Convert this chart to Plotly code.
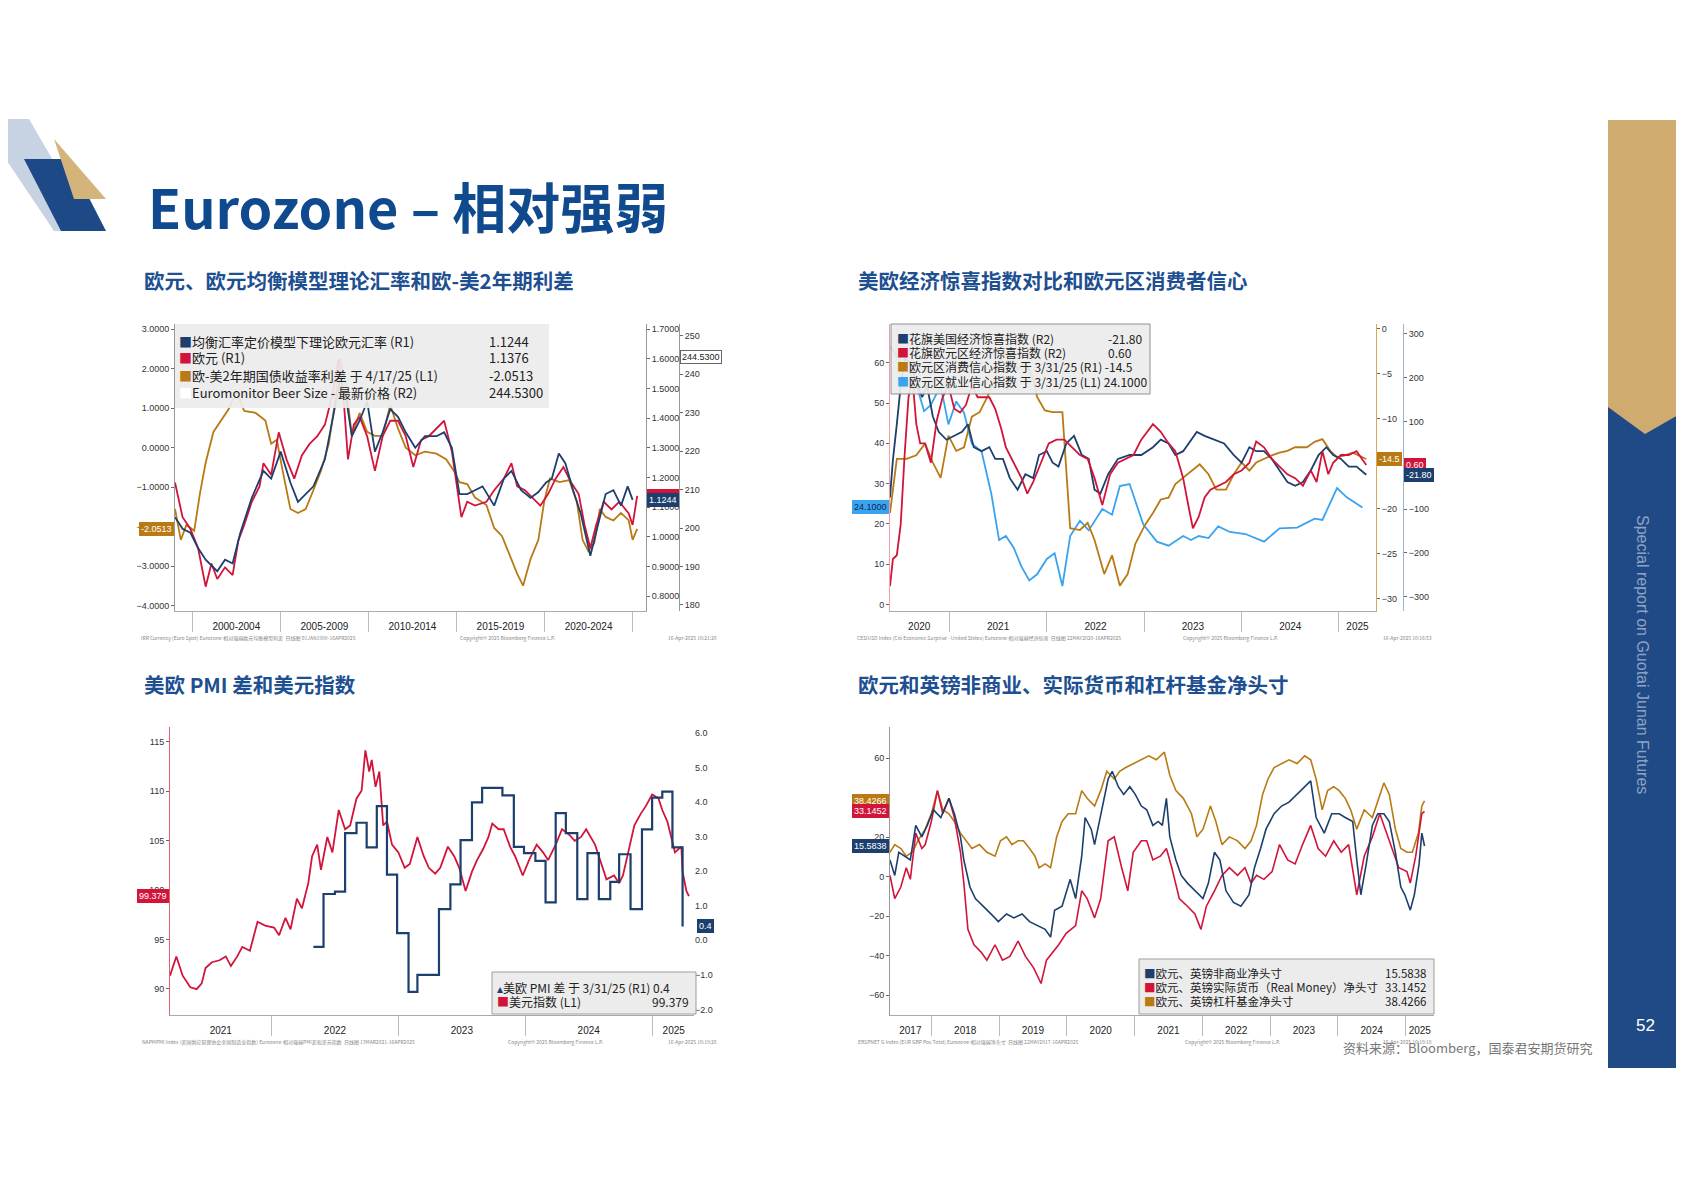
import plotly.graph_objects as go

W, H = 1684, 1191

# ---------------- chart 1: EUR, equilibrium model, 2y spread ----------------
c1_eur_x = [1999.02, 1999.45, 1999.89, 2000.33, 2000.76, 2001.09, 2001.42, 2001.86, 2002.29, 2002.62,
            2002.95, 2003.38, 2003.82, 2004.04, 2004.48, 2004.91, 2005.35, 2005.79, 2006.22, 2006.66,
            2007.1, 2007.53, 2007.97, 2008.3, 2008.62, 2008.84, 2009.17, 2009.5, 2009.93, 2010.37,
            2010.81, 2011.24, 2011.68, 2012.12, 2012.55, 2012.99, 2013.43, 2013.86, 2014.3, 2014.74,
            2015.07, 2015.28, 2015.61, 2016.05, 2016.7, 2017.14, 2017.69, 2018.12, 2018.45, 2018.89,
            2019.32, 2019.76, 2020.2, 2020.63, 2021.07, 2021.51, 2021.94, 2022.27, 2022.6, 2022.93,
            2023.36, 2023.8, 2024.24, 2024.78, 2025.0, 2025.26]
c1_eur = [1.183, 1.066, 1.027, 0.962, 0.832, 0.91, 0.858, 0.897, 0.871, 0.988,
          1.04, 1.118, 1.17, 1.248, 1.209, 1.352, 1.261, 1.196, 1.274, 1.313,
          1.339, 1.378, 1.482, 1.599, 1.443, 1.261, 1.378, 1.404, 1.339, 1.222,
          1.339, 1.391, 1.391, 1.339, 1.235, 1.326, 1.339, 1.365, 1.391, 1.287,
          1.144, 1.066, 1.118, 1.105, 1.118, 1.157, 1.196, 1.248, 1.17, 1.157,
          1.131, 1.105, 1.144, 1.196, 1.235, 1.183, 1.144, 1.04, 0.962, 1.04,
          1.118, 1.092, 1.118, 1.079, 1.04, 1.1376]
c1_model_x = [1999.02, 1999.45, 1999.89, 2000.33, 2000.76, 2001.42, 2001.86, 2002.29, 2002.73, 2003.38,
              2004.04, 2004.48, 2005.02, 2005.57, 2006.0, 2006.44, 2006.88, 2007.53, 2007.97, 2008.41,
              2008.73, 2009.06, 2009.5, 2009.93, 2010.37, 2010.81, 2011.24, 2011.68, 2012.12, 2012.66,
              2013.21, 2013.86, 2014.3, 2014.74, 2015.17, 2015.61, 2016.05, 2016.48, 2017.14, 2017.69,
              2018.12, 2018.67, 2019.21, 2019.65, 2020.09, 2020.41, 2020.81, 2021.18, 2021.62, 2022.05,
              2022.6, 2022.93, 2023.47, 2023.91, 2024.34, 2024.72, 2025.0]
c1_model = [1.066, 1.027, 1.014, 0.962, 0.923, 0.884, 0.923, 0.910, 1.014, 1.131,
            1.222, 1.196, 1.287, 1.183, 1.118, 1.144, 1.170, 1.261, 1.404, 1.534,
            1.469, 1.339, 1.391, 1.456, 1.287, 1.352, 1.430, 1.404, 1.352, 1.300,
            1.339, 1.339, 1.352, 1.300, 1.144, 1.144, 1.157, 1.170, 1.105, 1.196,
            1.222, 1.157, 1.131, 1.151, 1.183, 1.196, 1.281, 1.248, 1.157, 1.079,
            0.936, 1.014, 1.144, 1.157, 1.105, 1.170, 1.1244]
c1_spread_x = [1999.02, 1999.35, 1999.67, 2000.11, 2000.44, 2000.76, 2001.2, 2001.64, 2002.07, 2002.51,
               2002.95, 2003.6, 2004.15, 2004.48, 2004.8, 2005.13, 2005.57, 2006.0, 2006.44, 2006.88,
               2007.31, 2007.75, 2008.08, 2008.41, 2008.73, 2009.06, 2009.5, 2009.93, 2010.37, 2010.81,
               2011.24, 2011.68, 2012.12, 2012.66, 2013.21, 2013.86, 2014.41, 2014.85, 2015.17, 2015.61,
               2016.05, 2016.7, 2017.14, 2017.58, 2018.01, 2018.45, 2018.78, 2019.21, 2019.65, 2019.98,
               2020.31, 2020.85, 2021.4, 2021.83, 2022.16, 2022.49, 2022.82, 2023.14, 2023.47, 2023.91,
               2024.34, 2024.78, 2025.0, 2025.26]
c1_spread = [-1.55, -2.33, -1.95, -2.1, -1.15, -0.38, 0.4, 0.7, 0.98, 1.42,
             0.93, 0.88, 0.69, 0.1, 0.2, -0.58, -1.55, -1.65, -1.55, -1.07,
             -0.58, 0.1, 1.08, 2.24, 1.56, 0.3, 0.88, 0.4, 0.3, 0.3,
             1.08, 0.49, 0.0, -0.19, -0.1, -0.15, -0.29, -0.58, -0.87, -0.92,
             -1.26, -1.45, -2.03, -2.23, -2.71, -3.19, -3.49, -2.81, -2.33, -1.36,
             -0.78, -0.87, -0.82, -1.36, -2.33, -2.62, -2.42, -1.55, -1.75, -1.84,
             -1.65, -1.84, -2.33, -2.0513]
c1_beer = 244.53

# ---------------- chart 2: surprise indices & confidence ----------------
c2_us_x = [2020.39, 2020.42, 2020.46, 2020.5, 2020.54, 2020.6, 2020.66, 2020.72, 2020.77, 2020.83,
           2020.89, 2020.97, 2021.05, 2021.13, 2021.19, 2021.25, 2021.33, 2021.41, 2021.47, 2021.55,
           2021.62, 2021.7, 2021.78, 2021.86, 2021.92, 2022.0, 2022.06, 2022.12, 2022.2, 2022.28,
           2022.36, 2022.43, 2022.49, 2022.55, 2022.63, 2022.73, 2022.85, 2022.97, 2023.09, 2023.17,
           2023.25, 2023.32, 2023.4, 2023.48, 2023.54, 2023.62, 2023.72, 2023.82, 2023.92, 2024.0,
           2024.08, 2024.15, 2024.23, 2024.31, 2024.39, 2024.47, 2024.55, 2024.63, 2024.71, 2024.79,
           2024.87, 2024.94, 2025.02, 2025.1, 2025.18, 2025.28]
c2_us = [-73.5, 12, 93.5, 181.4, 242.9, 234, 190, 155, 181.4, 111,
         76, 58, 67, 76, 93.5, 41, 32, 41, 14.4, 14.4,
         -29.5, -56, -20.7, -29.5, 23.2, 32, 5.6, -3.2, 49.6, 67,
         23.2, 14.4, -56, -64.7, -20.7, 14.4, 23.2, 23.2, 41, 58.3,
         49.6, 23.2, 32, 58.3, 76, 67, 58.3, 49.6, 23.2, 5.6,
         41, 32, 32, 14.4, -12, -38.3, -47, -38.3, -12, 23.2,
         41, 23.2, 14.4, -3.2, -3.2, -21.8]
c2_eu_x = [2020.39, 2020.42, 2020.46, 2020.5, 2020.54, 2020.58, 2020.62, 2020.66, 2020.70, 2020.75,
           2020.81, 2020.87, 2020.93, 2020.99, 2021.05, 2021.11, 2021.17, 2021.23, 2021.29, 2021.35,
           2021.41, 2021.47, 2021.53, 2021.58, 2021.66, 2021.74, 2021.80, 2021.86, 2021.94, 2022.02,
           2022.10, 2022.18, 2022.26, 2022.34, 2022.42, 2022.49, 2022.57, 2022.65, 2022.73, 2022.81,
           2022.89, 2022.97, 2023.09, 2023.17, 2023.25, 2023.32, 2023.40, 2023.46, 2023.50, 2023.56,
           2023.62, 2023.68, 2023.76, 2023.84, 2023.92, 2024.0, 2024.08, 2024.15, 2024.23, 2024.31,
           2024.39, 2024.47, 2024.55, 2024.63, 2024.71, 2024.77, 2024.83, 2024.89, 2024.94, 2025.02,
           2025.10, 2025.18, 2025.28]
c2_eu = [-275.6, -214, -205.3, -135, 23.2, 155, 199, 93.5, 49.6, 49.6,
         5.6, 102, 155, 181.4, 128.6, 120, 137.4, 181.4, 155, 155,
         155, 128.6, 84.7, 40.8, 5.6, -29.5, -64.7, -38.3, 5.6, 49.6,
         58.3, 58.3, 40.8, 23.2, 14.4, -29.5, -91, -20.7, 5.6, 14.4,
         23.2, 58.3, 93.5, 76, 49.6, 32, -29.5, -99.8, -143.8, -117.4,
         -73.5, -55.9, -47.1, -38.3, -20.7, -12, 5.6, 53.9, 40.8, 14.4,
         -3.2, -20.7, -29.5, -47.1, -12, -38.3, 32, -20.7, 5.6, 23.2,
         23.2, 32, 0.6]
c2_cons_x = [2020.39, 2020.46, 2020.56, 2020.66, 2020.75, 2020.83, 2020.91, 2020.99, 2021.07, 2021.15,
             2021.23, 2021.31, 2021.39, 2021.47, 2021.55, 2021.62, 2021.70, 2021.78, 2021.86, 2021.90,
             2021.98, 2022.06, 2022.16, 2022.24, 2022.34, 2022.42, 2022.49, 2022.59, 2022.67, 2022.75,
             2022.83, 2022.91, 2023.01, 2023.09, 2023.17, 2023.25, 2023.32, 2023.40, 2023.48, 2023.57,
             2023.66, 2023.74, 2023.84, 2023.92, 2024.0, 2024.08, 2024.15, 2024.23, 2024.31, 2024.39,
             2024.47, 2024.55, 2024.67, 2024.75, 2024.83, 2024.91, 2024.98, 2025.06, 2025.14, 2025.28]
c2_cons = [-20.5, -14.5, -14.5, -14.1, -12.8, -14.9, -16.6, -11.9, -13.6, -13.2,
           -9.8, -9.3, -7.6, -5.5, -2.5, -2.9, -4.6, -3.8, -5.5, -7.6,
           -9.1, -9.3, -9.3, -22.2, -22.4, -21.6, -23.5, -27.3, -25.2, -28.6,
           -27.3, -23.9, -21.8, -20.5, -19.0, -18.8, -17.3, -16.6, -15.8, -15.1,
           -16.2, -17.9, -17.9, -16.2, -14.9, -15.8, -14.9, -14.5, -14.1, -13.8,
           -13.6, -13.2, -13.2, -12.6, -12.3, -13.6, -14.3, -14.1, -13.8, -14.5]
c2_emp_x = [2020.40, 2020.48, 2020.56, 2020.64, 2020.74, 2020.81, 2020.91, 2020.99, 2021.07, 2021.15,
            2021.23, 2021.33, 2021.43, 2021.51, 2021.58, 2021.66, 2021.74, 2021.82, 2021.90, 2022.0,
            2022.08, 2022.16, 2022.24, 2022.34, 2022.43, 2022.57, 2022.67, 2022.75, 2022.85, 2022.99,
            2023.13, 2023.25, 2023.40, 2023.48, 2023.56, 2023.66, 2023.76, 2023.88, 2024.04, 2024.23,
            2024.39, 2024.57, 2024.75, 2024.83, 2024.98, 2025.08, 2025.24]
c2_emp = [63.8, 60.9, 58.1, 56.2, 48.0, 49.5, 54.3, 44.7, 50.4, 47.6,
          39.9, 38.0, 27.5, 16.0, 17.0, 14.1, 9.4, 6.0, 7.5, 11.3,
          12.7, 4.6, 17.0, 20.8, 18.4, 23.7, 22.3, 29.4, 29.9, 19.9,
          15.6, 14.6, 17.0, 16.0, 17.0, 16.5, 19.4, 18.0, 17.5, 15.6,
          18.9, 19.1, 21.3, 21.0, 28.9, 26.6, 24.1]

# ---------------- chart 3: US-EU PMI gap & DXY ----------------
c3_dxy_x = [2021.20, 2021.25, 2021.30, 2021.36, 2021.41, 2021.45, 2021.48, 2021.53, 2021.59, 2021.64,
            2021.68, 2021.73, 2021.77, 2021.83, 2021.89, 2021.95, 2022.02, 2022.06, 2022.11, 2022.15,
            2022.20, 2022.24, 2022.29, 2022.32, 2022.36, 2022.39, 2022.44, 2022.48, 2022.53, 2022.58,
            2022.62, 2022.67, 2022.71, 2022.74, 2022.77, 2022.79, 2022.82, 2022.85, 2022.88, 2022.91,
            2022.95, 2023.0, 2023.05, 2023.09, 2023.15, 2023.20, 2023.24, 2023.29, 2023.33, 2023.39,
            2023.44, 2023.48, 2023.53, 2023.58, 2023.62, 2023.67, 2023.71, 2023.74, 2023.79, 2023.83,
            2023.88, 2023.92, 2023.98, 2024.03, 2024.09, 2024.14, 2024.18, 2024.24, 2024.29, 2024.35,
            2024.39, 2024.44, 2024.48, 2024.55, 2024.59, 2024.64, 2024.70, 2024.74, 2024.77, 2024.82,
            2024.86, 2024.91, 2024.95, 2025.0, 2025.05, 2025.08, 2025.12, 2025.18, 2025.23, 2025.24,
            2025.27, 2025.29]
c3_dxy = [91.33, 93.28, 91.33, 90.16, 89.96, 90.55, 92.11, 92.69, 92.89, 93.28,
          92.30, 93.28, 94.25, 93.86, 96.79, 96.40, 96.20, 95.42, 97.18, 96.01,
          99.13, 98.15, 100.69, 103.42, 104.59, 102.05, 105.37, 103.81, 108.10, 106.15,
          106.54, 109.27, 110.05, 114.14, 111.99, 113.17, 110.44, 111.99, 106.54, 106.93,
          104.59, 103.81, 102.25, 102.64, 105.37, 103.42, 102.25, 101.66, 102.25, 104.39,
          103.42, 102.25, 99.91, 101.86, 103.03, 104.20, 105.37, 106.73, 106.15, 106.15,
          104.39, 103.42, 101.47, 103.03, 104.59, 103.81, 103.03, 104.59, 106.15, 105.56,
          104.98, 105.37, 106.15, 104.59, 103.03, 101.08, 101.47, 100.69, 101.47, 104.20,
          106.54, 107.71, 108.49, 109.66, 109.27, 108.10, 106.93, 103.81, 104.39, 101.86,
          99.91, 99.379]
c3_pmi_x = [2022.33, 2022.41, 2022.50, 2022.58, 2022.67, 2022.75, 2022.83, 2022.91, 2022.99, 2023.08,
            2023.15, 2023.32, 2023.41, 2023.49, 2023.58, 2023.66, 2023.82, 2023.91, 2023.99, 2024.08,
            2024.16, 2024.24, 2024.32, 2024.41, 2024.49, 2024.58, 2024.67, 2024.74, 2024.83, 2024.92,
            2025.0, 2025.08, 2025.16, 2025.24]
c3_pmi = [-0.19, 1.34, 1.41, 3.10, 3.40, 2.69, 3.88, 1.90, 0.21, -1.49,
          -1.00, 0.90, 1.62, 2.90, 3.99, 4.41, 4.19, 2.70, 2.52, 2.30,
          1.10, 3.68, 3.10, 1.19, 2.52, 1.19, 1.69, 2.49, 0.90, 3.21,
          4.13, 4.30, 2.69, 0.4]

# ---------------- chart 4: EUR & GBP positioning ----------------
c4_nc_x = [2017.39, 2017.46, 2017.52, 2017.60, 2017.69, 2017.77, 2017.86, 2017.94, 2018.03, 2018.14,
           2018.26, 2018.34, 2018.43, 2018.48, 2018.57, 2018.65, 2018.77, 2018.88, 2018.99, 2019.11,
           2019.22, 2019.34, 2019.45, 2019.56, 2019.68, 2019.76, 2019.82, 2019.93, 2020.05, 2020.13,
           2020.22, 2020.27, 2020.36, 2020.41, 2020.53, 2020.61, 2020.67, 2020.76, 2020.84, 2020.93,
           2021.01, 2021.10, 2021.18, 2021.27, 2021.35, 2021.41, 2021.47, 2021.52, 2021.61, 2021.69,
           2021.78, 2021.89, 2022.01, 2022.09, 2022.18, 2022.26, 2022.35, 2022.46, 2022.57, 2022.69,
           2022.77, 2022.86, 2022.94, 2023.06, 2023.17, 2023.28, 2023.40, 2023.51, 2023.60, 2023.68,
           2023.80, 2023.91, 2024.02, 2024.11, 2024.22, 2024.28, 2024.34, 2024.42, 2024.51, 2024.59,
           2024.68, 2024.76, 2024.85, 2024.93, 2024.99, 2025.07, 2025.13, 2025.20, 2025.24, 2025.28]
c4_nc = [8.5, 0.7, 12.4, 10.4, 8.5, 26.0, 20.2, 26.0, 33.9, 30.0,
         39.7, 31.9, 20.2, 8.5, -5.2, -11.0, -14.9, -18.8, -22.7, -18.8,
         -20.8, -18.8, -22.7, -24.7, -26.6, -30.5, -16.9, -14.9, -1.3, -11.0,
         10.4, 30.0, 24.1, 16.3, 35.8, 49.5, 53.4, 45.6, 41.7, 45.6,
         41.7, 35.8, 33.9, 26.0, 28.0, 26.0, 39.7, 20.2, 8.5, 0.7,
         -3.2, -7.1, -11.0, -3.2, 12.4, 8.5, -7.1, -13.0, -14.9, -9.1,
         4.6, 14.3, 24.1, 31.9, 35.8, 37.8, 41.7, 45.6, 48.5, 30.0,
         22.1, 31.9, 31.9, 30.0, 28.0, 8.5, -9.1, 6.5, 26.0, 31.9,
         31.9, 28.0, 12.4, -5.2, -9.1, -16.9, -9.1, 6.5, 22.1, 15.5838]
c4_rm_x = [2017.39, 2017.46, 2017.55, 2017.63, 2017.69, 2017.77, 2017.86, 2017.91, 2018.0, 2018.09,
           2018.17, 2018.26, 2018.34, 2018.43, 2018.48, 2018.54, 2018.63, 2018.74, 2018.82, 2018.94,
           2019.05, 2019.16, 2019.28, 2019.39, 2019.51, 2019.62, 2019.70, 2019.79, 2019.88, 2019.99,
           2020.13, 2020.22, 2020.30, 2020.41, 2020.50, 2020.61, 2020.70, 2020.81, 2020.90, 2020.98,
           2021.10, 2021.18, 2021.27, 2021.38, 2021.47, 2021.55, 2021.66, 2021.78, 2021.89, 2021.98,
           2022.06, 2022.18, 2022.29, 2022.40, 2022.52, 2022.63, 2022.72, 2022.80, 2022.91, 2023.03,
           2023.14, 2023.26, 2023.37, 2023.48, 2023.60, 2023.71, 2023.82, 2023.94, 2024.05, 2024.16,
           2024.28, 2024.39, 2024.51, 2024.62, 2024.70, 2024.79, 2024.90, 2025.02, 2025.07, 2025.15,
           2025.24, 2025.28]
c4_rm = [0.7, -11.0, -5.2, 4.6, -1.3, 22.1, 14.3, 16.3, 28.0, 43.6,
         31.9, 39.7, 30.0, 12.4, -3.2, -26.6, -34.4, -38.3, -42.2, -34.4,
         -42.2, -40.3, -32.5, -40.3, -46.1, -54.0, -42.2, -38.3, -34.4, -28.6,
         -24.7, -7.1, -11.0, -20.8, -11.0, 18.2, 20.2, 4.6, -7.1, 12.4,
         18.2, 18.2, 8.5, 10.4, 14.3, 4.6, -11.0, -14.9, -18.8, -26.6,
         -14.9, -7.1, 0.7, 4.6, 0.7, 4.6, -3.2, 0.7, -1.3, 2.6,
         16.3, 8.5, 6.5, 16.3, 26.0, 14.3, 10.4, 18.2, 12.4, 16.3,
         -9.1, 10.4, 20.2, 31.9, 24.1, 16.3, 4.6, 2.6, -3.2, 10.4,
         31.9, 33.1452]
c4_lev_x = [2017.39, 2017.46, 2017.55, 2017.63, 2017.72, 2017.80, 2017.91, 2018.0, 2018.09, 2018.17,
            2018.26, 2018.34, 2018.43, 2018.51, 2018.60, 2018.71, 2018.82, 2018.94, 2019.02, 2019.11,
            2019.19, 2019.28, 2019.36, 2019.45, 2019.53, 2019.59, 2019.68, 2019.76, 2019.85, 2019.93,
            2020.02, 2020.13, 2020.22, 2020.30, 2020.41, 2020.50, 2020.59, 2020.70, 2020.78, 2020.87,
            2020.98, 2021.10, 2021.21, 2021.32, 2021.44, 2021.52, 2021.61, 2021.72, 2021.84, 2021.92,
            2022.01, 2022.12, 2022.20, 2022.29, 2022.40, 2022.52, 2022.63, 2022.72, 2022.80, 2022.89,
            2022.97, 2023.06, 2023.17, 2023.28, 2023.40, 2023.51, 2023.60, 2023.68, 2023.77, 2023.85,
            2023.94, 2024.02, 2024.11, 2024.19, 2024.28, 2024.39, 2024.51, 2024.59, 2024.68, 2024.76,
            2024.85, 2024.93, 2025.02, 2025.10, 2025.19, 2025.24, 2025.28]
c4_lev = [12.4, 16.3, 14.3, 10.4, 12.4, 18.2, 24.1, 31.9, 43.6, 33.9,
          31.9, 28.0, 22.1, 18.2, 14.3, 16.3, 12.4, 10.4, 18.2, 20.2,
          16.3, 18.2, 18.2, 14.3, 10.4, 4.6, 6.5, 4.6, 20.2, 28.0,
          31.9, 31.9, 43.6, 39.7, 35.8, 43.6, 53.4, 49.5, 53.4, 55.3,
          57.3, 59.2, 61.2, 59.2, 63.1, 51.4, 43.6, 39.7, 31.9, 20.2,
          24.1, 35.8, 28.0, 16.3, 20.2, 18.2, 14.3, 18.2, 26.0, 41.7,
          49.5, 55.3, 57.3, 59.2, 57.3, 61.2, 59.2, 49.5, 33.9, 43.6,
          45.6, 43.6, 39.7, 33.9, 24.1, 33.9, 30.0, 37.8, 47.5, 41.7,
          24.1, 14.3, 12.4, 12.4, 22.1, 35.8, 38.4266]

NAVY = "#1d3f6e"
RED = "#d2143a"
GOLD = "#b97a14"
LBLUE = "#3aa3f0"

DX, DY = 9, 9  # layout offset


def fx(x):
    return (x - DX) / W


def fy(y):
    return 1 - (y - DY) / H


fig = go.Figure()

# chart 1
fig.add_trace(go.Scatter(x=c1_spread_x, y=c1_spread, mode="lines", line=dict(color=GOLD, width=1.8), xaxis="x", yaxis="y"))
fig.add_trace(go.Scatter(x=c1_eur_x, y=c1_eur, mode="lines", line=dict(color=RED, width=1.8), xaxis="x", yaxis="y2"))
fig.add_trace(go.Scatter(x=c1_model_x, y=c1_model, mode="lines", line=dict(color=NAVY, width=1.8), xaxis="x", yaxis="y2"))
fig.add_trace(go.Scatter(x=[2025.26], y=[c1_beer], mode="markers", marker=dict(opacity=0), xaxis="x", yaxis="y3"))
# chart 2
fig.add_trace(go.Scatter(x=c2_emp_x, y=c2_emp, mode="lines", line=dict(color=LBLUE, width=1.8), xaxis="x2", yaxis="y4"))
fig.add_trace(go.Scatter(x=c2_cons_x, y=c2_cons, mode="lines", line=dict(color=GOLD, width=1.8), xaxis="x2", yaxis="y5"))
fig.add_trace(go.Scatter(x=c2_us_x, y=c2_us, mode="lines", line=dict(color=NAVY, width=1.8), xaxis="x2", yaxis="y6"))
fig.add_trace(go.Scatter(x=c2_eu_x, y=c2_eu, mode="lines", line=dict(color=RED, width=1.8), xaxis="x2", yaxis="y6"))
# chart 3
fig.add_trace(go.Scatter(x=c3_dxy_x, y=c3_dxy, mode="lines", line=dict(color=RED, width=1.8), xaxis="x3", yaxis="y7"))
fig.add_trace(go.Scatter(x=c3_pmi_x, y=c3_pmi, mode="lines", line=dict(color=NAVY, width=2.2, shape="hv"), xaxis="x3", yaxis="y8"))
# chart 4
fig.add_trace(go.Scatter(x=c4_lev_x, y=c4_lev, mode="lines", line=dict(color=GOLD, width=1.6), xaxis="x4", yaxis="y9"))
fig.add_trace(go.Scatter(x=c4_rm_x, y=c4_rm, mode="lines", line=dict(color=RED, width=1.6), xaxis="x4", yaxis="y9"))
fig.add_trace(go.Scatter(x=c4_nc_x, y=c4_nc, mode="lines", line=dict(color=NAVY, width=1.6), xaxis="x4", yaxis="y9"))

tfont = dict(family="Liberation Sans", size=9, color="#333333")
TOP = [fy(612), fy(325)]
BOT = [fy(1016), fy(728)]


def yax(rng, vals, fmt, **kw):
    d = dict(range=rng, tickvals=vals, tickformat=fmt, showgrid=False, zeroline=False,
             showline=True, linecolor="#999999", ticks="outside", ticklen=3, tickcolor="#666666",
             tickfont=tfont)
    d.update(kw)
    return d


def xax(dom, rng, labpos, labs, seps, anchor):
    return dict(domain=dom, range=rng, anchor=anchor, tickvals=labpos, ticktext=labs, ticks="",
                ticklabelstandoff=6, showgrid=False, zeroline=False, showline=True,
                linecolor="#aaaaaa", tickfont=dict(family="Liberation Sans", size=10, color="#222222"),
                minor=dict(tickvals=seps, ticks="outside", ticklen=20, tickcolor="#bbbbbb", showgrid=False))


fig.update_layout(
    width=W, height=H, margin=dict(l=0, r=0, t=0, b=0), paper_bgcolor="white",
    plot_bgcolor="white", showlegend=False,
    xaxis=xax([fx(176), fx(647)], [1999.02, 2025.76], [2002.5, 2007.5, 2012.5, 2017.5, 2022.5],
              ["2000-2004", "2005-2009", "2010-2014", "2015-2019", "2020-2024"],
              [2000, 2005, 2010, 2015, 2020, 2025], "y"),
    yaxis=yax([-4.13, 3.13], [-4, -3, -2, -1, 0, 1, 2, 3], ".4f", domain=TOP, anchor="x"),
    yaxis2=yax([0.75, 1.717], [0.8, 0.9, 1.0, 1.1, 1.2, 1.3, 1.4, 1.5, 1.6, 1.7], ".4f",
               overlaying="y", side="right", anchor="x"),
    yaxis3=yax([178.4, 253.1], [180, 190, 200, 210, 220, 230, 240, 250], "d",
               overlaying="y", side="right", anchor="free", position=fx(680)),
    xaxis2=xax([fx(891), fx(1377)], [2020.39, 2025.38], [2020.69, 2021.5, 2022.5, 2023.5, 2024.5, 2025.19],
               ["2020", "2021", "2022", "2023", "2024", "2025"], [2021, 2022, 2023, 2024, 2025], "y4"),
    yaxis4=yax([-1.6, 69.6], [0, 10, 20, 30, 40, 50, 60], "d", domain=TOP, anchor="x2", linecolor="#f2a0a8"),
    yaxis5=yax([-31.4, 0.5], [-30, -25, -20, -10, -5, 0], "d", overlaying="y4", side="right",
               anchor="x2", linecolor="#d9a850"),
    yaxis6=yax([-332.5, 322], [-300, -200, -100, 100, 200, 300], "d", overlaying="y4", side="right",
               anchor="free", position=fx(1404), linecolor="#9fb3cc"),
    xaxis3=xax([fx(171), fx(695)], [2021.2, 2025.33], [2021.6, 2022.5, 2023.5, 2024.5, 2025.17],
               ["2021", "2022", "2023", "2024", "2025"], [2022, 2023, 2024, 2025], "y7"),
    yaxis7=yax([87.35, 116.5], [90, 95, 100, 105, 110, 115], "d", domain=BOT, anchor="x3", linecolor="#e06070"),
    yaxis8=yax([-2.16, 6.17], [-2, -1, 0, 1, 2, 3, 4, 5, 6], ".1f", overlaying="y7", side="right",
               anchor="x3", showline=False, ticks=""),
    xaxis4=xax([fx(891), fx(1435)], [2017.39, 2025.42],
               [2017.69, 2018.5, 2019.5, 2020.5, 2021.5, 2022.5, 2023.5, 2024.5, 2025.21],
               ["2017", "2018", "2019", "2020", "2021", "2022", "2023", "2024", "2025"],
               [2018, 2019, 2020, 2021, 2022, 2023, 2024, 2025], "y9"),
    yaxis9=yax([-69.95, 75.8], [-60, -40, -20, 0, 20, 40, 60], "d", domain=BOT, anchor="x4"),
)

ann = []
shapes = []


def text(x, y, s, size, color="#222222", xanchor="left", yanchor="middle", family="Noto Sans CJK SC", **kw):
    d = dict(x=fx(x), y=fy(y), xref="paper", yref="paper", text=s, showarrow=False, xanchor=xanchor,
             yanchor=yanchor, font=dict(family=family, size=size, color=color))
    d.update(kw)
    ann.append(d)


def tag(x, yref, val, s, bg, xanchor, fg="white", border=None):
    ann.append(dict(x=fx(x), y=val, xref="paper", yref=yref, text=s, showarrow=False, xanchor=xanchor,
                    yanchor="middle", bgcolor=bg, bordercolor=border or bg, borderpad=1,
                    font=dict(family="Liberation Sans", size=9, color=fg)))


# header
text(147, 207, "<b>Eurozone – 相对强弱</b>", 54, "#0f4a8e")
text(143, 281, "<b>欧元、欧元均衡模型理论汇率和欧-美2年期利差</b>", 20.5, "#1d4f91")
text(857, 281, "<b>美欧经济惊喜指数对比和欧元区消费者信心</b>", 20.5, "#1d4f91")
text(143, 685, "<b>美欧 PMI 差和美元指数</b>", 20.5, "#1d4f91")
text(857, 685, "<b>欧元和英镑非商业、实际货币和杠杆基金净头寸</b>", 20.5, "#1d4f91")
text(1596, 1048, "资料来源：Bloomberg，国泰君安期货研究", 13, "#777777", xanchor="right")

# decorative corner
shapes.append(dict(type="path", path=f"M {fx(0)},{fy(120)} L {fx(30)},{fy(120)} L {fx(95)},{fy(232)} L {fx(55)},{fy(232)} L {fx(0)},{fy(150)} Z",
                   xref="paper", yref="paper", fillcolor="#c7d3e3", line=dict(width=0)))
shapes.append(dict(type="path", path=f"M {fx(25)},{fy(160)} L {fx(70)},{fy(160)} L {fx(107)},{fy(232)} L {fx(62)},{fy(232)} Z",
                   xref="paper", yref="paper", fillcolor="#1d4a86", line=dict(width=0)))
shapes.append(dict(type="path", path=f"M {fx(55)},{fy(140)} L {fx(107)},{fy(200)} L {fx(75)},{fy(200)} Z",
                   xref="paper", yref="paper", fillcolor="#d4b47a", line=dict(width=0)))
# sidebar
shapes.append(dict(type="rect", x0=fx(1609), x1=1, y0=fy(1069), y1=fy(121), xref="paper", yref="paper",
                   fillcolor="#1f4a86", line=dict(width=0)))
shapes.append(dict(type="path", path=f"M {fx(1609)},{fy(121)} L 1,{fy(121)} L 1,{fy(408)} L {fx(1646)},{fy(435)} L {fx(1609)},{fy(408)} Z",
                   xref="paper", yref="paper", fillcolor="#cfab70", line=dict(width=0)))
text(1644, 655, "Special report on Guotai Junan Futures", 16, "#8ea3c4", xanchor="center",
     family="Liberation Sans", textangle=90)
text(1646, 1026, "52", 17, "white", xanchor="center", family="Liberation Sans")

# legends
shapes.append(dict(type="rect", x0=fx(176), x1=fx(550), y0=fy(409), y1=fy(325), xref="paper", yref="paper",
                   fillcolor="#ebebeb", line=dict(width=0), layer="above", opacity=0.92))
leg1 = [("■", NAVY, "均衡汇率定价模型下理论欧元汇率 (R1)", "1.1244"),
        ("■", RED, "欧元 (R1)", "1.1376"),
        ("■", GOLD, "欧-美2年期国债收益率利差 于 4/17/25 (L1)", "-2.0513"),
        ("■", "#ffffff", "Euromonitor Beer Size - 最新价格 (R2)", "244.5300")]
for i, (m, c, s, v) in enumerate(leg1):
    yy = 342 + 17 * i
    text(178, yy, f"<span style='color:{c}'>{m}</span>{s}", 13)
    text(488, yy, v, 13)

shapes.append(dict(type="rect", x0=fx(892), x1=fx(1151), y0=fy(395), y1=fy(325), xref="paper", yref="paper",
                   fillcolor="#ececec", line=dict(width=1, color="#888888"), layer="above", opacity=0.92))
leg2 = [(NAVY, "花旗美国经济惊喜指数 (R2)", "-21.80"),
        (RED, "花旗欧元区经济惊喜指数 (R2)", "0.60"),
        (GOLD, "欧元区消费信心指数 于 3/31/25 (R1) -14.5", ""),
        (LBLUE, "欧元区就业信心指数 于 3/31/25 (L1) 24.1000", "")]
for i, (c, s, v) in enumerate(leg2):
    yy = 339 + 14.5 * i
    text(896, yy, f"<span style='color:{c}'>■</span>{s}", 12)
    if v:
        text(1107, yy, v, 12)

shapes.append(dict(type="rect", x0=fx(493), x1=fx(697), y0=fy(1015), y1=fy(973), xref="paper", yref="paper",
                   fillcolor="#ececec", line=dict(width=1, color="#999999"), layer="above", opacity=0.95))
text(496, 988, f"<span style='color:{NAVY}'>▴</span>美欧 PMI 差 于 3/31/25 (R1) 0.4", 12)
text(496, 1002, f"<span style='color:{RED}'>■</span>美元指数 (L1)", 12)
text(692, 1002, "99.379", 12, xanchor="right")

shapes.append(dict(type="rect", x0=fx(1140), x1=fx(1435), y0=fy(1015), y1=fy(960), xref="paper", yref="paper",
                   fillcolor="#ececec", line=dict(width=1, color="#999999"), layer="above", opacity=0.95))
leg4 = [(NAVY, "欧元、英镑非商业净头寸", "15.5838"),
        (RED, "欧元、英镑实际货币（Real Money）净头寸", "33.1452"),
        (GOLD, "欧元、英镑杠杆基金净头寸", "38.4266")]
for i, (c, s, v) in enumerate(leg4):
    yy = 974 + 14 * i
    text(1143, yy, f"<span style='color:{c}'>■</span>{s}", 11.5)
    text(1430, yy, v, 11.5, xanchor="right")

# axis value tags
tag(175, "y", c1_spread[-1], "-2.0513", GOLD, "right")
tag(648, "y2", c1_eur[-1], "1.1376", RED, "left")
tag(648, "y2", c1_model[-1], "1.1244", NAVY, "left")
tag(681, "y3", c1_beer, "244.5300", "white", "left", fg="#222222", border="#666666")
tag(890, "y4", c2_emp[-1], "24.1000", LBLUE, "right", fg="#0b2a55")
tag(1378, "y5", c2_cons[-1], "-14.5", GOLD, "left")
tag(1405, "y6", c2_eu[-1], "0.60", RED, "left")
tag(1405, "y6", c2_us[-1], "-21.80", NAVY, "left")
tag(170, "y7", c3_dxy[-1], "99.379", RED, "right")
tag(698, "y8", c3_pmi[-1], "0.4", NAVY, "left")
tag(890, "y9", c4_lev[-1], "38.4266", GOLD, "right")
tag(890, "y9", c4_rm[-1], "33.1452", RED, "right")
tag(890, "y9", c4_nc[-1], "15.5838", NAVY, "right")

# tiny bloomberg footers
foot = [(140, 639, "IRR Currency (Euro Spot) Eurozone-相对强弱欧元均衡模型利差  日线图 01JAN1999-16APR2025", 509, 720, "16-Apr-2025 10:21:20"),
        (856, 639, "CESIUSD Index (Citi Economic Surprise - United States) Eurozone-相对强弱经济惊喜  日线图 22MAY2020-16APR2025", 1232, 1435, "16-Apr-2025 10:16:53"),
        (141, 1043, "NAPMPMI Index (美国供应管理协会全国制造业指数) Eurozone-相对强弱PMI差和美元指数  日线图 13MAR2021-16APR2025", 557, 720, "16-Apr-2025 10:19:28"),
        (857, 1043, "EBSPNET G Index (EUR GBP Pos Total) Eurozone-相对强弱净头寸  日线图 22MAY2017-16APR2025", 1234, 1435, "16-Apr-2025 10:10:18")]
for x0, y0, s, xc, xr, d in foot:
    text(x0, y0, s, 5, "#888888")
    text(xc, y0, "Copyright© 2025 Bloomberg Finance L.P.", 5, "#888888", xanchor="center")
    text(xr, y0, d, 5, "#888888", xanchor="right")

fig.update_layout(annotations=ann, shapes=shapes)
fig.write_html("out.html")
